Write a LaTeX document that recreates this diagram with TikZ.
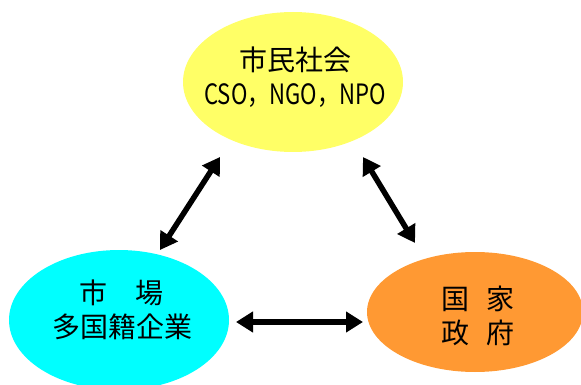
\documentclass[tikz,border=0pt]{standalone}
\usepackage{fontspec}
\setmainfont{Noto Sans CJK JP}
\usetikzlibrary{shapes.geometric,arrows.meta}
\definecolor{cyellow}{HTML}{FFFF66}
\definecolor{ccyan}{HTML}{00FFFF}
\definecolor{corange}{HTML}{FF9933}
\tikzset{
  blob/.style={ellipse, inner sep=0pt, draw=none},
  lbl/.style={align=center, font=\fontsize{28}{34}\selectfont, inner sep=0pt},
  dbl/.style={line width=5.5pt, {Triangle[length=17pt,width=20pt]}-{Triangle[length=17pt,width=20pt]}}
}
\begin{document}
\begin{tikzpicture}[x=1pt,y=-1pt]
\clip (0,0) rectangle (581,385);
\node[blob, fill=cyellow, minimum width=220pt, minimum height=140pt] (civ) at (293,82) {};
\node[blob, fill=ccyan, minimum width=220pt, minimum height=140pt] (mkt) at (119,320) {};
\node[blob, fill=corange, minimum width=216pt, minimum height=120pt] (gov) at (475,312) {};
\node[lbl] (civt) at (295,77) {市民社会\\\scalebox{0.79}[1]{CSO，NGO，NPO}};
\node[lbl] (mktt) at (122,310) {市\hspace{1em}場\\多国籍企業};
\node[lbl] (govt) at (478,316) {国\hspace{0.6em}家\\政\hspace{0.6em}府};
\coordinate (a1) at (220,157);
\coordinate (a2) at (160,250);
\coordinate (b1) at (363,157);
\coordinate (b2) at (415,243);
\coordinate (c1) at (236,322);
\coordinate (c2) at (363,322);
\draw[dbl] (a1) -- (a2);
\draw[dbl] (b1) -- (b2);
\draw[dbl] (c1) -- (c2);
\end{tikzpicture}
\end{document}
